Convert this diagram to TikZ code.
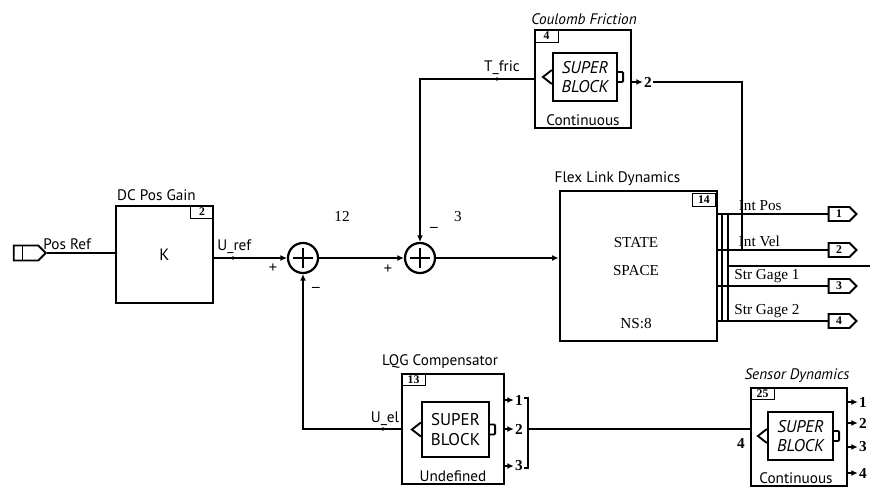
\documentclass[tikz,border=0pt]{standalone}
\usepackage{fontspec}
\setmainfont{Liberation Serif}
\newfontfamily\blkfont{PT Sans}
\usetikzlibrary{arrows.meta,calc,shapes.symbols}

\newcommand{\pxl}{0.03cm}

\tikzset{
  blk/.style={draw, line width=2.4pt, inner sep=0pt},
  sblk/.style={draw, line width=1.9pt, inner sep=0pt, align=center,
    font=\blkfont\fontsize{14.5}{16.5}\selectfont},
  tag/.style={draw, line width=1.6pt, inner sep=0pt, font=\bfseries\fontsize{10}{11}\selectfont},
  ttl/.style={inner sep=1pt, font=\blkfont\fontsize{13}{15}\selectfont},
  lbl/.style={inner sep=1pt, font=\blkfont\fontsize{13}{15}\selectfont},
  txt/.style={inner sep=1pt, font=\fontsize{13}{15}\selectfont},
  sumpt/.style={draw, circle, line width=1.9pt, minimum size=30*\pxl, inner sep=0pt},
  port/.style={draw, signal, signal to=east, line width=1.7pt, inner sep=0pt,
    minimum width=28*\pxl, minimum height=14*\pxl, font=\bfseries\fontsize{10}{11}\selectfont},
  wire/.style={line width=1.8pt},
  sig/.style={wire, -{Latex[length=5.5pt,width=5pt]}},
}

\begin{document}
\begin{tikzpicture}[x=0.03cm, y=-0.03cm]
\useasboundingbox (0,0) rectangle (870,488);

% Reference input
\node[port, minimum width=32*\pxl, minimum height=15*\pxl] (posref) at (26,253) {};
\draw[line width=1.3pt] ($(posref.north west)!0.38!(posref.north east)$) -- ($(posref.south west)!0.38!(posref.south east)$);
\node[lbl, anchor=south west] (posreflbl) at (42,251) {Pos Ref};

% DC Pos Gain
\node[blk, minimum width=97*\pxl, minimum height=97*\pxl, font=\blkfont\fontsize{14}{16}\selectfont] (dcgain) at (164.5,254.5) {K};
\node[ttl, anchor=south] (dcgainttl) at ($(dcgain.north)+(-8,-3)$) {DC Pos Gain};
\node[tag, anchor=north east, minimum width=23*\pxl, minimum height=13*\pxl] (dcgainnum) at (dcgain.north east) {2};
\node[lbl, anchor=south west] (ureflbl) at (216,255) {U\_ref};

% Summing junctions
\node[sumpt] (sumA) at (303,258) {};
\node[sumpt] (sumB) at (420,258) {};
\foreach \s in {sumA,sumB} {
  \draw[wire] ($(\s.center)+(-10,0)$) -- ($(\s.center)+(10,0)$);
  \draw[wire] ($(\s.center)+(0,-10)$) -- ($(\s.center)+(0,10)$);
}
\node[txt] (plusA) at (273,268) {\textbf{+}};
\node[txt] (minusA) at (316,289) {\textbf{--}};
\node[txt] (plusB) at (388,269) {\textbf{+}};
\node[txt] (minusB) at (434,229) {\textbf{--}};
\node[txt] (sigA) at (342,216) {12};
\node[txt] (sigB) at (458,217) {3};

% Coulomb Friction
\node[blk, minimum width=96*\pxl, minimum height=98*\pxl] (coulomb) at (583,79) {};
\node[ttl, anchor=south, font=\blkfont\itshape\fontsize{13}{15}\selectfont] (coulombttl) at ($(coulomb.north)+(1,-3)$) {Coulomb Friction};
\node[tag, anchor=north west, minimum width=24*\pxl, minimum height=13*\pxl] (coulombnum) at (coulomb.north west) {4};
\node[sblk, minimum width=64*\pxl, minimum height=48*\pxl, font=\blkfont\itshape\fontsize{14.5}{16.5}\selectfont] (coulombsb) at (585,77) {SUPER\\BLOCK};
\node[lbl, anchor=south] (coulombmode) at ($(coulomb.south)+(0,-2)$) {Continuous};
\node[txt] (coulombout) at (648,82) {\textbf{2}};
\node[lbl, anchor=south] (tfriclbl) at (502,76) {T\_fric};

% Flex Link Dynamics
\node[blk, minimum width=157*\pxl, minimum height=150*\pxl] (flex) at (638.5,266) {};
\node[ttl, anchor=south] (flexttl) at ($(flex.north)+(-21,-3)$) {Flex Link Dynamics};
\node[tag, anchor=north east, minimum width=23*\pxl, minimum height=13*\pxl] (flexnum) at ($(flex.north east)+(-2,3)$) {14};
\node[txt] (flexa) at (636,243) {STATE};
\node[txt] (flexb) at (636,271) {SPACE};
\node[txt] (flexc) at (636,324) {NS:8};

% Output ports
\foreach \n/\yy in {1/214,2/250,3/286,4/321}
  \node[port] (out\n) at (839,\yy) {\n};
\foreach \n in {1,...,4}
  \draw[wire] (flex.east |- out\n) -- (out\n.west);
\foreach \bx in {722,728}
  \draw[wire] (\bx,214) -- (\bx,321);
\coordinate (busend) at (870,266);
\draw[wire] (728,266) -- (busend);
\node[txt, anchor=south west] (outlblA) at (737.5,212) {Int Pos};
\node[txt, anchor=south west] (outlblB) at (737.5,248) {Int Vel};
\node[txt, anchor=south west] (outlblC) at (733,284) {Str Gage 1};
\node[txt, anchor=south west] (outlblD) at (733,319) {Str Gage 2};

% LQG Compensator
\node[blk, minimum width=102*\pxl, minimum height=110*\pxl] (lqg) at (453,429) {};
\node[ttl, anchor=south] (lqgttl) at ($(lqg.north)+(-13,-3)$) {LQG Compensator};
\node[tag, anchor=north west, minimum width=24*\pxl, minimum height=12*\pxl] (lqgnum) at (lqg.north west) {13};
\node[sblk, minimum width=67*\pxl, minimum height=55*\pxl] (lqgsb) at (455.5,429.5) {SUPER\\BLOCK};
\node[lbl, anchor=south] (lqgmode) at ($(lqg.south)+(0,-2)$) {Undefined};
\node[lbl, anchor=south] (uellbl) at (385,427) {U\_el};
\foreach \n/\yy in {1/400,2/429,3/466}
  \node[txt] (lqgo\n) at (519,\yy) {\textbf{\n}};
\foreach \n in {1,2,3}
  \draw[sig] (lqg.east |- lqgo\n) -- (lqgo\n.west);
\coordinate (brtop) at (528,398);
\coordinate (brbot) at (528,468);
\draw[wire] ($(brtop)+(-4,0)$) -- (brtop) -- (brbot) -- ++(-4,0);

% Sensor Dynamics
\node[blk, minimum width=96*\pxl, minimum height=98*\pxl] (sensor) at (799,437) {};
\node[ttl, anchor=south, font=\blkfont\itshape\fontsize{13}{15}\selectfont] (sensorttl) at ($(sensor.north)+(-2,-3)$) {Sensor Dynamics};
\node[tag, anchor=north west, minimum width=24*\pxl, minimum height=12*\pxl] (sensornum) at (sensor.north west) {25};
\node[sblk, minimum width=65*\pxl, minimum height=48*\pxl, font=\blkfont\itshape\fontsize{14.5}{16.5}\selectfont] (sensorsb) at (800.5,436) {SUPER\\BLOCK};
\node[lbl, anchor=south] (sensormode) at ($(sensor.south)+(-3,-2)$) {Continuous};
\node[txt] (sensorin) at (741,443) {\textbf{4}};
\foreach \n/\yy in {1/402,2/423,3/447,4/473}
  \node[txt] (senso\n) at (863,\yy) {\textbf{\n}};
\foreach \n in {1,...,4}
  \draw[sig] (sensor.east |- senso\n) -- (senso\n.west);

% Super block markers
\foreach \b in {coulombsb,lqgsb,sensorsb} {
  \draw[line width=1.6pt] ($(\b.west)+(0,-7)$) -- ++(-9,7) -- ++(9,7);
  \draw[line width=1.6pt, rounded corners=1pt] ($(\b.east)+(0,-5)$) -- ++(5,0) -- ++(0,10) -- ++(-5,0);
}

% Signal lines
\draw[wire] (posref.east) -- (posref.east -| dcgain.west);
\draw[sig] (dcgain.east |- sumA.west) -- (sumA.west);
\draw[sig] (sumA.east) -- (sumB.west);
\draw[sig] (sumB.east) -- (sumB.east -| flex.west);
\draw[sig] (coulomb.west) -| (sumB.north);
\draw[sig] (lqg.west) -| (sumA.south);
\draw[wire] (coulombout.east) -| (742,250);
\draw[wire] (brtop |- lqgo2) -- (sensor.west |- lqgo2);
\draw[sig] (coulomb.east |- coulombout) -- (coulombout.west);

% Label dots
\foreach \dx/\dy in {233/258,497/79,383/429}
  \fill (\dx,\dy) circle (1.8);
\end{tikzpicture}
\end{document}
